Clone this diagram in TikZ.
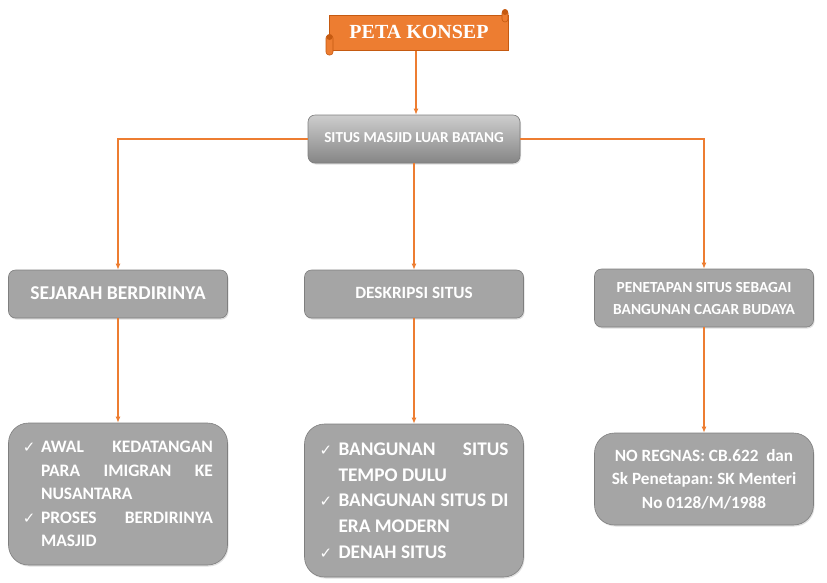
\documentclass[tikz,border=0pt]{standalone}
\usepackage{fontspec}
\setmainfont{Carlito}[BoldFont={Carlito Bold}]
\newfontfamily\titlefont{Liberation Serif}[BoldFont={Liberation Serif Bold}]
\newfontfamily\symfont{DejaVu Sans}
\usepackage{tikz}
\usetikzlibrary{arrows.meta,shadows}
\definecolor{konsep}{HTML}{ED7D31}
\definecolor{konsepdark}{HTML}{C55A11}
\definecolor{kotak}{HTML}{A5A5A5}
\definecolor{kotakline}{HTML}{7F7F7F}
\newcommand{\chk}[1]{\makebox[#1][l]{\symfont\mdseries\fontsize{15}{15}\selectfont ✓}}
\frenchspacing

\begin{document}
\begin{tikzpicture}[x=1pt,y=-1pt,
        panah/.style={draw=konsep, line width=1.1pt, -{Latex[length=6pt,width=5pt]}},
        kotak/.style={rectangle, rounded corners=7pt, fill=kotak, draw=kotakline, line width=0.6pt,
            text=white, font=\bfseries, minimum width=219pt, align=flush center,
            drop shadow={opacity=0.25, shadow xshift=1pt, shadow yshift=-1.5pt}},
        isi/.style={kotak, rounded corners=20pt}]
    \useasboundingbox (0,0) rectangle (827,582);
    % judul
    \fill[konsep, draw=konsepdark, line width=0.6pt] (329,15) rectangle (508,50);
    \fill[konsep, draw=konsepdark, line width=0.6pt, rounded corners=3pt] (326,35) rectangle (333,55);
    \fill[konsepdark] (329.5,37) circle (3pt);
    \fill[konsep, draw=konsepdark, line width=0.6pt, rounded corners=3pt] (502,10) rectangle (508,22);
    \fill[konsepdark] (505,12) circle (3pt);
    \node[text=white, font=\titlefont\bfseries\fontsize{20}{20}\selectfont] (judul) at (419,32) {PETA KONSEP};
    \coordinate (judulbawah) at (416,51);
    % kotak utama
    \node[kotak, minimum width=212pt, minimum height=48pt, shading=axis, top color=kotak!55, bottom color=kotakline!95,
        font=\bfseries\fontsize{15.2}{16}\selectfont] (situs) at (414,139) {\raisebox{3pt}{SITUS MASJID LUAR BATANG}};
    % tingkat dua
    \node[kotak, minimum height=48pt, font=\bfseries\fontsize{19.6}{20}\selectfont] (sejarah) at (118,294)
        {\raisebox{2pt}{SEJARAH BERDIRINYA}};
    \node[kotak, minimum height=48pt, font=\bfseries\fontsize{17.2}{18}\selectfont] (deskripsi) at (414,294)
        {\raisebox{2pt}{DESKRIPSI SITUS}};
    \node[kotak, minimum height=58pt, font=\bfseries\fontsize{15.4}{22}\selectfont] (penetapan) at (704,298)
        {PENETAPAN SITUS SEBAGAI\\BANGUNAN CAGAR BUDAYA};
    % tingkat tiga
    \node[isi, minimum height=142pt, text width=190pt, align=flush left, inner xsep=14pt,
        font=\bfseries\fontsize{17.5}{23.5}\selectfont] (awal) at (118,494)
        {\chk{18pt}AWAL\hfill KEDATANGAN\\
         \hspace*{18pt}PARA\hfill IMIGRAN\hfill KE\\
         \hspace*{18pt}NUSANTARA\\
         \chk{18pt}PROSES\hfill BERDIRINYA\\
         \hspace*{18pt}MASJID};
    \node[isi, minimum height=153pt, text width=189pt, align=flush left, inner xsep=14pt,
        font=\bfseries\fontsize{19.3}{25.7}\selectfont] (bangunan) at (414,500.5)
        {\chk{19pt}BANGUNAN\hfill SITUS\\
         \hspace*{19pt}TEMPO DULU\\
         \chk{19pt}BANGUNAN\hfill SITUS\hfill DI\\
         \hspace*{19pt}ERA MODERN\\
         \chk{19pt}DENAH SITUS};
    \node[isi, minimum height=92pt, font=\bfseries\fontsize{17.2}{23.5}\selectfont] (regnas) at (704,479)
        {NO REGNAS: CB.622\ \ dan\\Sk Penetapan: SK Menteri\\No 0128/M/1988};
    % panah
    \draw[panah] (judulbawah) -- (judulbawah |- situs.north);
    \draw[panah] (situs.west) -| (sejarah.north);
    \draw[panah] (situs.south) -- (deskripsi.north);
    \draw[panah] (situs.east) -| (penetapan.north);
    \draw[panah] (sejarah.south) -- (awal.north);
    \draw[panah] (deskripsi.south) -- (bangunan.north);
    \draw[panah] (penetapan.south) -- (regnas.north);
\end{tikzpicture}
\end{document}
